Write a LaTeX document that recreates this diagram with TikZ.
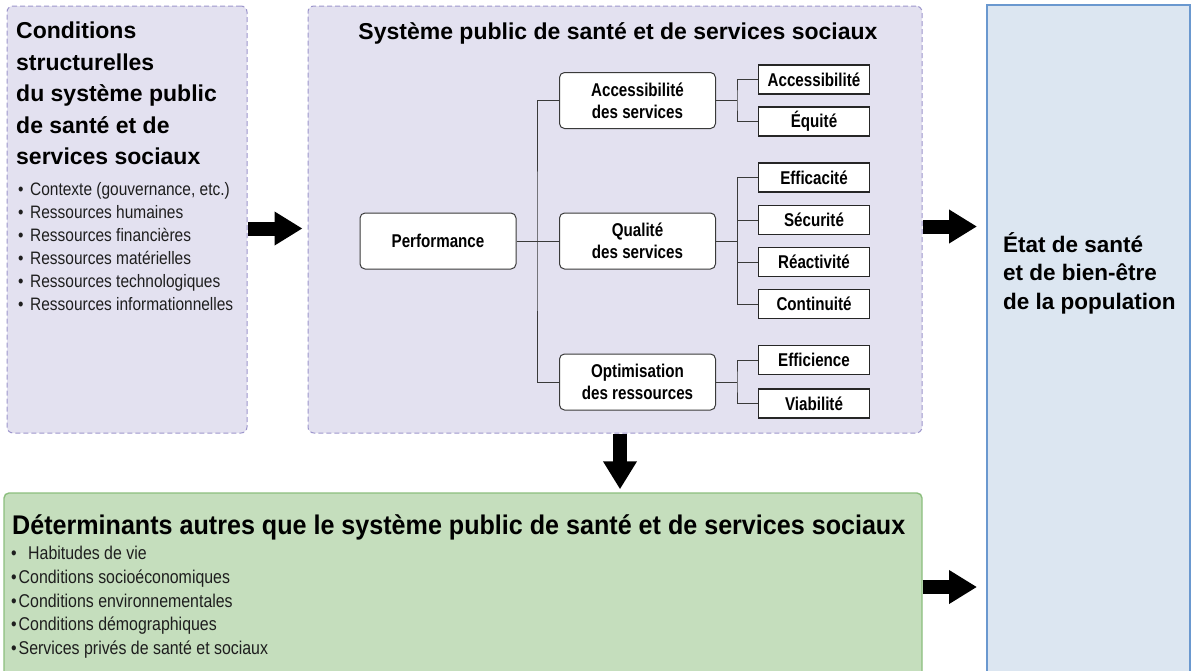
\documentclass[tikz,border=0pt]{standalone}
\usepackage{fontspec}
\setmainfont{Liberation Sans}
\newfontfamily\narrowfont[FakeStretch=0.86]{Liberation Sans}
\newfontfamily\tightfont[FakeStretch=0.82]{Liberation Sans}
\newfontfamily\semifont[FakeStretch=0.93]{Liberation Sans}
\usetikzlibrary{arrows.meta}
\definecolor{panelfill}{HTML}{E3E1F0}
\definecolor{panelline}{HTML}{9D96CC}
\definecolor{greenfill}{HTML}{C5DEBD}
\definecolor{greenline}{HTML}{8CBF7E}
\definecolor{popfill}{HTML}{DCE6F1}
\definecolor{popline}{HTML}{6A98CF}
\definecolor{linkgray}{HTML}{3A3A3A}
\definecolor{bodytext}{HTML}{1E1E1E}
\begin{document}
\begin{tikzpicture}[x=1pt,y=-1pt,
  panel/.style={draw=panelline, fill=panelfill, dash pattern=on 5pt off 3pt, line width=1pt, rounded corners=6pt, inner sep=0pt},
  greenpanel/.style={draw=greenline, fill=greenfill, line width=1.4pt, rounded corners=5pt, inner sep=0pt},
  poppanel/.style={draw=popline, fill=popfill, line width=2pt, inner sep=0pt},
  midbox/.style={draw=linkgray, fill=white, line width=1pt, rounded corners=5pt, minimum width=156pt, minimum height=56pt, align=center, inner sep=0pt, font=\tightfont\bfseries\fontsize{18.5}{22}\selectfont},
  leafbox/.style={draw=black!85, fill=white, line width=1.4pt, minimum width=111pt, minimum height=29pt, inner sep=0pt, font=\tightfont\bfseries\fontsize{18.5}{21}\selectfont},
  link/.style={draw=linkgray, line width=1pt},
  bigarrow/.style={line width=14pt, -{Triangle[length=28pt,width=32pt]}},
  bullets/.style={anchor=north west, inner sep=0pt, align=left, text=bodytext, font=\narrowfont\fontsize{18}{23}\selectfont},
]
\useasboundingbox (0,0) rectangle (1199,670);
\clip (0,0) rectangle (1199,670);

% panels
\node[panel, minimum width=240pt, minimum height=427pt] (left) at (127,219.5) {};
\node[panel, minimum width=614pt, minimum height=427pt] (mid) at (615,219.5) {};
\node[poppanel, minimum width=203pt, minimum height=690pt] (pop) at (1088.5,350) {};
\node[greenpanel, minimum width=918pt, minimum height=200pt] (green) at (463,593) {};

% left panel text
\node[anchor=north west, inner sep=0pt, align=left, font=\bfseries\fontsize{23}{31.5}\selectfont] (lefttitle) at (16,22)
  {Conditions\\structurelles\\du système public\\de santé et de\\services sociaux};
\node[bullets] (leftlist) at (18,182)
  {\makebox[12pt][l]{•}Contexte (gouvernance, etc.)\\
   \makebox[12pt][l]{•}Ressources humaines\\
   \makebox[12pt][l]{•}Ressources financières\\
   \makebox[12pt][l]{•}Ressources matérielles\\
   \makebox[12pt][l]{•}Ressources technologiques\\
   \makebox[12pt][l]{•}Ressources informationnelles};

% middle panel
\node[anchor=base, inner sep=0pt, font=\bfseries\fontsize{23}{28}\selectfont] (midtitle) at (618,39)
  {Système public de santé et de services sociaux};

\node[midbox] (perf) at (438,241) {Performance};
\node[midbox] (acc) at (637.5,100.5) {Accessibilité\\des services};
\node[midbox] (qual) at (637.5,241) {Qualité\\des services};
\node[midbox] (opt) at (637.5,382) {Optimisation\\des ressources};

\node[leafbox] (l1) at (814,79.5) {Accessibilité};
\node[leafbox] (l2) at (814,121.5) {Équité};
\node[leafbox] (l3) at (814,177.5) {Efficacité};
\node[leafbox] (l4) at (814,220) {Sécurité};
\node[leafbox] (l5) at (814,262) {Réactivité};
\node[leafbox] (l6) at (814,304) {Continuité};
\node[leafbox] (l7) at (814,360) {Efficience};
\node[leafbox] (l8) at (814,403.5) {Viabilité};

\coordinate (trunk) at (537,241);
\coordinate (branch) at (737,241);
\draw[link] (perf.east) -- (qual.west);
\draw[link] (acc.west) -| (trunk) |- (opt.west);

\draw[link] (acc.east) -- (branch |- acc.east);
\draw[link] (l1.west) -| (branch |- acc.east) |- (l2.west);

\draw[link] (qual.east) -- (branch |- qual.east);
\draw[link] (l3.west) -| (branch |- l6.west) -- (l6.west);
\draw[link] (l4.west) -- (branch |- l4.west);
\draw[link] (l5.west) -- (branch |- l5.west);

\draw[link] (opt.east) -- (branch |- opt.east);
\draw[link] (l7.west) -| (branch |- opt.east) |- (l8.west);

% green panel text
\node[anchor=base west, inner sep=0pt, font=\semifont\bfseries\fontsize{27}{30}\selectfont] (gtitle) at (12,534)
  {Déterminants autres que le système public de santé et de services sociaux};
\node[bullets, font=\narrowfont\fontsize{18.5}{23.7}\selectfont] (glist) at (11,546)
  {\makebox[17pt][l]{•}Habitudes de vie\\
   \makebox[7.5pt][l]{•}Conditions socioéconomiques\\
   \makebox[7.5pt][l]{•}Conditions environnementales\\
   \makebox[7.5pt][l]{•}Conditions démographiques\\
   \makebox[7.5pt][l]{•}Services privés de santé et sociaux};

% right panel text
\node[anchor=north west, inner sep=0pt, align=left, font=\bfseries\fontsize{22.5}{28.5}\selectfont] (poptext) at (1003,232)
  {État de santé\\et de bien-être\\de la population};

% block arrows
\coordinate (a1) at ([yshift=-9pt]left.east);
\draw[bigarrow, shorten >=5pt] (a1) -- (a1 -| mid.west);
\coordinate (a2) at ([yshift=-7pt]mid.east);
\draw[bigarrow, shorten >=9pt] (a2) -- (a2 -| pop.west);
\coordinate (a3) at ([xshift=5pt]mid.south);
\draw[bigarrow, shorten >=3pt] (a3) -- (a3 |- green.north);
\coordinate (a4) at ([yshift=6pt]green.east);
\draw[bigarrow, shorten >=9pt] (a4) -- (a4 -| pop.west);
\end{tikzpicture}
\end{document}
